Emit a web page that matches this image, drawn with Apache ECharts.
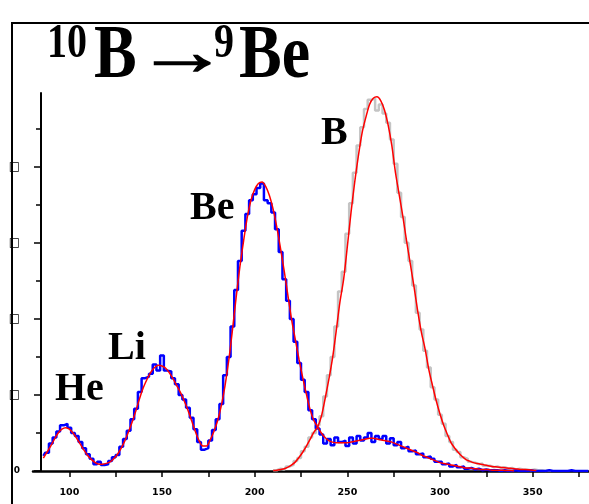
<!DOCTYPE html>
<html>
<head>
<meta charset="utf-8">
<script src="https://cdn.jsdelivr.net/npm/echarts@6/dist/echarts.min.js"></script>
<style>
  html, body { margin: 0; padding: 0; background: #fff; }
  #chart { width: 589px; height: 504px; }
</style>
</head>
<body>
<div id="chart"></div>
<script>
// Channel binning of the spectra (2 channels per bin)
const binWidth = 2;
const dataStart = 86;   // first bin of the measured spectrum
const fitStart = 86;    // first bin of the total fit
const bStart = 210;     // first bin of the B run (raw + fit)

// Measured spectrum of the 10B -> 9Be run (blue histogram)
const measured = [
  20, 24, 36, 44, 52, 60, 62, 57, 50, 46,        // 86-104
  38, 30, 22, 16, 9, 12, 8, 9, 13, 18,           // 106-124
  21, 32, 42, 53, 68, 82, 104, 122, 124, 128,    // 126-144
  140, 132, 152, 132, 131, 122, 114, 100, 94, 83,// 146-164
  70, 55, 38, 28, 30, 40, 54, 68, 88, 126,       // 166-184
  150, 190, 238, 276, 316, 338, 356, 364, 372, 378, // 186-204
  356, 352, 340, 318, 288, 252, 224, 200, 170, 142, // 206-224
  120, 104, 80, 68, 56, 48, 36, 42, 34, 44,      // 226-244
  38, 40, 33, 44, 36, 46, 40, 44, 50, 38,        // 246-264
  46, 42, 46, 36, 43, 34, 38, 30, 32, 26,        // 266-284
  27, 22, 23, 18, 19, 16, 12, 12, 9, 10,         // 286-304
  6, 8, 5, 6, 3, 4, 2, 3, 1, 2,                  // 306-324
  1, 1, 1, 0, 1, 0, 0, 1, 0, 0,                  // 326-344
  0, 1, 0, 0, 0, 0, 1, 0, 0, 0,                  // 346-364
  0, 0, 1, 0, 0, 0, 0, 0                         // 366-380
];

// Total fit (He + Li + Be + background), red
const totalFit = [
  17, 25, 33, 42, 50, 55, 57, 55, 50, 43,        // 86-104
  35, 27, 20, 15, 11, 9, 9, 10, 12, 16,          // 106-124
  22, 30, 40, 52, 65, 80, 96, 110, 121, 130,     // 126-144
  136, 139, 138, 135, 129, 121, 112, 103, 92, 80,// 146-164
  66, 52, 40, 33, 33, 41, 52, 66, 86, 112,       // 166-184
  145, 185, 228, 268, 302, 333, 356, 370, 378, 380, // 186-204
  374, 362, 344, 320, 292, 262, 230, 198, 172, 146, // 206-224
  122, 100, 80, 66, 58, 50, 44, 40, 38, 37,      // 226-244
  37, 37, 37, 38, 39, 40, 41, 42, 43, 43,        // 246-264
  42, 41, 40, 39, 38, 36, 34, 32, 30, 28,        // 266-284
  26, 24, 21, 19, 17, 15, 13, 11, 10, 9,         // 286-304
  8, 7, 6, 5, 4, 4, 3, 3, 2, 2,                  // 306-324
  2, 1, 1, 1, 1, 0.5, 0.5, 0                     // 326-340
];

// Raw spectrum of the B run (grey histogram)
const bRaw = [
  1, 1, 3, 2, 6, 8, 13, 17, 26, 32,              // 210-228
  44, 50, 60, 72, 98, 126, 150, 190, 236, 262,   // 230-248
  312, 352, 392, 428, 452, 476, 488, 490, 474, 482, // 250-268
  470, 458, 436, 404, 366, 334, 300, 276, 244, 208, // 270-288
  186, 158, 136, 110, 94, 74, 62, 46, 38, 28,    // 290-308
  25, 18, 16, 12, 11, 9, 10, 7, 7, 5,            // 310-328
  6, 4, 5, 3, 4, 2, 3, 2, 2, 1,                  // 330-348
  2, 1, 1, 0, 1, 0                               // 350-360
];

// Fit of the B peak, red
const bFit = [
  0.5, 1, 2, 3, 5, 8, 12, 18, 25, 33,            // 210-228
  42, 51, 58, 72, 95, 120, 148, 184, 222, 252,   // 230-248
  295, 340, 380, 415, 445, 465, 482, 490, 492, 487, // 250-268
  475, 455, 428, 392, 363, 334, 302, 272, 242, 210, // 270-288
  182, 160, 133, 112, 92, 75, 60, 48, 37, 30,    // 290-308
  24, 19, 15, 13, 11, 10, 9, 8, 7, 6,            // 310-328
  5.5, 5, 4.5, 4, 3.5, 3, 2.5, 2, 2, 1.5,        // 330-348
  1, 0.5                                         // 350-352
];

// Axis ticks and labels
const xTickValues = [100, 125, 150, 175, 200, 225, 250, 275, 300, 325, 350, 375];
const xLabelValues = [100, 150, 200, 250, 300, 350];
const yLabelValues = [0, 100, 200, 300, 400];
const yLabelTexts = ['0', '\u25A1', '\u25A1', '\u25A1', '\u25A1'];

// Peak names
const peakNames = ['He', 'Li', 'Be', 'B'];

function pairs(start, values) {
  return values.map((v, i) => [start + i * binWidth, v]);
}

const serif = '"Liberation Serif", "Times New Roman", serif';

const chart = echarts.init(document.getElementById('chart'), null, { renderer: 'canvas' });

const peakLabelPos = [[55, 390], [108, 349], [190, 208.5], [321, 134]];

const option = {
  backgroundColor: '#ffffff',
  animation: false,
  grid: { left: 33, right: 0, top: 93, bottom: 33, containLabel: false },
  xAxis: {
    type: 'value',
    min: 80.4,
    max: 380.4,
    axisLine: { show: true, lineStyle: { color: '#000', width: 2.5 } },
    axisTick: {
      show: true, inside: false, length: 6, customValues: xTickValues,
      lineStyle: { color: '#000', width: 1.5 }
    },
    axisLabel: {
      show: true, customValues: xLabelValues, margin: 17,
      fontFamily: '"DejaVu Sans", sans-serif', fontSize: 9.5, fontWeight: 'bold', color: '#000'
    },
    splitLine: { show: false }
  },
  yAxis: {
    type: 'value',
    min: 0,
    max: 497,
    interval: 100,
    offset: -8,
    axisLine: { show: true, lineStyle: { color: '#000', width: 2 } },
    axisTick: {
      show: true, inside: false, length: 7, customValues: yLabelValues,
      lineStyle: { color: '#000', width: 1.5 }
    },
    minorTick: { show: true, splitNumber: 2, length: 5, lineStyle: { color: '#000', width: 1.5 } },
    axisLabel: {
      show: true, customValues: yLabelValues, margin: 21,
      fontFamily: '"DejaVu Sans", sans-serif', fontSize: 9, fontWeight: 'bold', color: '#000',
      formatter: (v) => {
        const i = yLabelValues.indexOf(v);
        if (i < 0) return '';
        return v === 0 ? yLabelTexts[i] : '{sq|' + yLabelTexts[i] + '}';
      },
      rich: {
        sq: { fontFamily: '"DejaVu Sans", sans-serif', fontSize: 12, fontWeight: 'bold', color: '#000' }
      }
    },
    splitLine: { show: false }
  },
  series: [
    {
      name: 'B raw', type: 'line', step: 'middle', symbol: 'none',
      data: pairs(bStart, bRaw),
      lineStyle: { color: '#c4c4c4', width: 2.5 }, z: 2
    },
    {
      name: 'Be run', type: 'line', step: 'middle', symbol: 'none',
      data: pairs(dataStart, measured),
      lineStyle: { color: '#0000ff', width: 2.5 }, z: 3
    },
    {
      name: 'Total fit', type: 'line', smooth: 0.3, symbol: 'none',
      data: pairs(fitStart, totalFit),
      lineStyle: { color: '#ff0000', width: 1.5 }, z: 4
    },
    {
      name: 'B fit', type: 'line', smooth: 0.3, symbol: 'none',
      data: pairs(bStart, bFit),
      lineStyle: { color: '#ff0000', width: 1.5 }, z: 4
    }
  ],
  graphic: [
    // outer frame
    {
      type: 'rect', shape: { x: 12, y: 23, width: 700, height: 600 },
      style: { fill: null, stroke: '#000', lineWidth: 2 }, silent: true
    },
    // title: 10B -> 9Be
    {
      type: 'text', x: 47, y: 45, scaleY: 1.2,
      style: { text: '10', font: 'bold 40px ' + serif, fill: '#000', textAlign: 'left', textVerticalAlign: 'middle' }
    },
    {
      type: 'text', x: 94, y: 57, scaleY: 1.2,
      style: { text: 'B', font: 'bold 64px ' + serif, fill: '#000', textAlign: 'left', textVerticalAlign: 'middle' }
    },
    {
      type: 'text', x: 136, y: 57, scaleX: 1.55, scaleY: 1.1,
      style: { text: '\u2192', font: 'bold 60px ' + serif, fill: '#000', stroke: '#000', lineWidth: 1.2,
               textAlign: 'left', textVerticalAlign: 'middle' }
    },
    {
      type: 'text', x: 214, y: 45, scaleY: 1.2,
      style: { text: '9', font: 'bold 40px ' + serif, fill: '#000', textAlign: 'left', textVerticalAlign: 'middle' }
    },
    {
      type: 'text', x: 239, y: 57, scaleY: 1.2,
      style: { text: 'Be', font: 'bold 64px ' + serif, fill: '#000', textAlign: 'left', textVerticalAlign: 'middle' }
    }
  ].concat(peakNames.map((name, i) => ({
    type: 'text', x: peakLabelPos[i][0], y: peakLabelPos[i][1],
    style: { text: name, font: 'bold 40px ' + serif, fill: '#000', textAlign: 'left', textVerticalAlign: 'middle' }
  })))
};

chart.setOption(option);
</script>
</body>
</html>
